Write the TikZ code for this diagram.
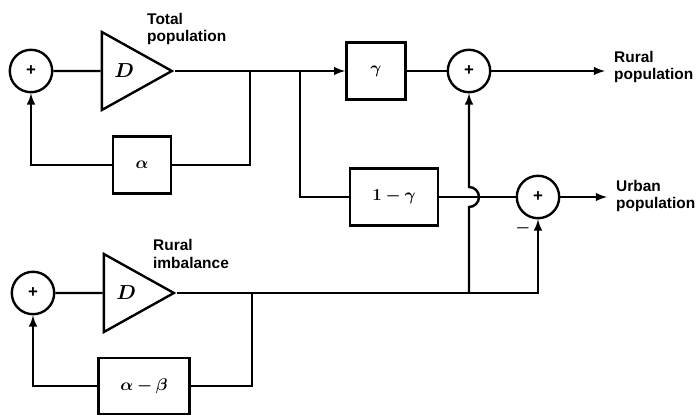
\documentclass[tikz,border=0pt]{standalone}
\usepackage{amsmath,amssymb}
\usepackage{bm}
\usepackage{fontspec}
\setsansfont{Liberation Sans}
\usetikzlibrary{shapes.geometric}

\tikzset{
  sumnode/.style={draw, circle, minimum size=1.06cm, inner sep=0pt, font=\sffamily\bfseries\large},
  gainbox/.style={draw, rectangle, minimum height=1.43cm, inner sep=0pt, font=\large},
  integ/.style={draw, isosceles triangle, isosceles triangle stretches, minimum width=1.95cm, minimum height=1.75cm, inner sep=0pt, anchor=apex, font=\Large},
  lbl/.style={font=\sffamily\bfseries\fontsize{11}{12.5}\selectfont, align=left, anchor=west, inner sep=0pt}
}

\begin{document}
\begin{tikzpicture}[x=0.025cm, y=0.025cm, >=latex, line width=1.7pt]
			\useasboundingbox (0,0) rectangle (697,416);
			
			% upper loop: total population
			\node[sumnode] (sT) at (31,345) {+};
			\node[integ] (dT) at (175,345) {$\bm{D}$};
			\node[gainbox, minimum width=1.45cm] (bA) at (142,251) {$\bm{\alpha}$};
			\node[lbl] (lT) at (146,387) {Total\\population};
			
			\coordinate (brT) at (250,345);
			\coordinate (brG) at (300,345);
			
			% split into rural and urban parts
			\node[gainbox, minimum width=1.48cm] (bG) at (376,345) {$\bm{\gamma}$};
			\node[gainbox, minimum width=2.2cm] (b1G) at (394,219) {$\bm{1-\gamma}$};
			\node[sumnode] (sR) at (469,345) {+};
			\node[sumnode] (sU) at (538,219) {+};
			\node[font=\large] (mU) at (523,188) {$\bm{-}$};
			\coordinate (oR) at (605,345);
			\coordinate (oU) at (607,219);
			\node[lbl] (lR) at (613,349) {Rural\\population};
			\node[lbl] (lU) at (615,220) {Urban\\population};
			
			% lower loop: rural imbalance
			\node[sumnode] (sB) at (33,123) {+};
			\node[integ] (dB) at (177,123) {$\bm{D}$};
			\node[gainbox, minimum width=2.28cm, minimum height=1.4cm] (bAB) at (144,30) {$\bm{\alpha-\beta}$};
			\node[lbl] (lB) at (152,162) {Rural\\imbalance};
			
			\coordinate (brB) at (252,123);
			\coordinate (brU) at (469,123);
			\coordinate (jmp) at (469,209);
			
			\draw (sT) to (dT.west);
			\draw[->] (dT.apex) to (bG.west);
			\draw (brT) |- (bA.east);
			\draw[->] (bA.west) -| (sT.south);
			\draw (brG) |- (b1G.west);
			\draw (bG) to (sR);
			\draw[->] (sR) to (oR);
			\draw (b1G) to (sU);
			\draw[->] (sU) to (oU);
			
			\draw (sB) to (dB.west);
			\draw[->] (dB.apex) -| (sU.south);
			\draw (brB) |- (bAB.east);
			\draw[->] (bAB.west) -| (sB.south);
			\draw[->] (brU) to (jmp) arc[start angle=-90, end angle=90, radius=0.25cm] to (sR.south);
			
		\end{tikzpicture}
\end{document}
